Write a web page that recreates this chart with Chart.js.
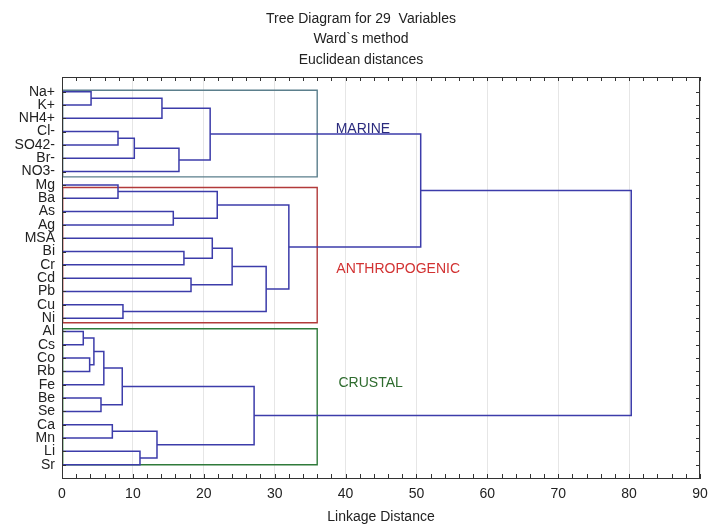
<!DOCTYPE html>
<html>
<head>
<meta charset="utf-8">
<script src="https://cdn.jsdelivr.net/npm/chart.js@4.4.0/dist/chart.umd.min.js"></script>
<style>
  html, body { margin: 0; padding: 0; background: #fff; }
  #wrap { width: 708px; height: 527px; }
</style>
</head>
<body>
<div id="wrap"><canvas id="tree"></canvas></div>
<script>
// leaves from top to bottom
var leaves = ['Na+','K+','NH4+','Cl-','SO42-','Br-','NO3-','Mg','Ba','As','Ag','MSA','Bi','Cr','Cd','Pb','Cu','Ni','Al','Cs','Co','Rb','Fe','Be','Se','Ca','Mn','Li','Sr'];

// linkage steps, m0..m27
var linkLeft  = ['Na+','m0','Cl-','m2','m3','m1','Mg','As','m6','Bi','MSA','Cd','m10','Cu','m12','m8','m5','Al','Co','m17','m19','Be','m20','Ca','Li','m23','m22','m16'];
var linkRight = ['K+','NH4+','SO42-','Br-','NO3-','m4','Ba','Ag','m7','Cr','m9','Pb','m11','Ni','m13','m14','m15','Cs','Rb','m18','Fe','Se','m21','Mn','Sr','m24','m25','m26'];
var linkHeight = [4.1,14.1,7.9,10.2,16.5,20.9,7.9,15.7,21.9,17.2,21.2,18.2,24.0,8.6,28.8,32.0,50.6,3.0,3.9,4.5,5.9,5.5,8.5,7.1,11.0,13.4,27.1,80.3];

var xTicks = [0,10,20,30,40,50,60,70,80,90];

// groups
var groupNames = ['MARINE','ANTHROPOGENIC','CRUSTAL'];
var groupTop = [-0.1, 7.2, 17.8];
var groupBottom = [6.4, 17.35, 28];
var groupDist = [36, 36, 36];

var groupColors = ['#5b7f8c','#b23a3a','#2f7a3a'];
var labelColors = ['#2b2b7e','#d23232','#2e6b2e'];
var labelPos = [[38.6, 2.78],[38.7, 13.3],[39.0, 21.9]];

var lineColor = '#3c3caa';

// positions of nodes
var nodeY = {}, nodeX = {};
leaves.forEach(function(n, i){ nodeY[n] = i; nodeX[n] = 0; });

var datasets = [];
for (var i = 0; i < linkLeft.length; i++) {
    var a = linkLeft[i], b = linkRight[i], h = linkHeight[i];
    datasets.push({
        data: [
            {x: nodeX[a], y: nodeY[a]},
            {x: h, y: nodeY[a]},
            {x: h, y: nodeY[b]},
            {x: nodeX[b], y: nodeY[b]}
        ],
        showLine: true,
        borderColor: lineColor,
        borderWidth: 1.5,
        pointRadius: 0,
        fill: false,
        order: 0
    });
    nodeY['m' + i] = (nodeY[a] + nodeY[b]) / 2;
    nodeX['m' + i] = h;
}

for (var g = 0; g < groupNames.length; g++) {
    datasets.push({
        data: [
            {x: 0.1, y: groupTop[g]},
            {x: groupDist[g], y: groupTop[g]},
            {x: groupDist[g], y: groupBottom[g]},
            {x: 0.1, y: groupBottom[g]},
            {x: 0.1, y: groupTop[g]}
        ],
        showLine: true,
        borderColor: groupColors[g],
        borderWidth: 1.4,
        pointRadius: 0,
        fill: false,
        order: 5
    });
}

var font = '"Liberation Sans", Arial, sans-serif';

var extras = {
    id: 'extras',
    beforeDatasetsDraw: function(chart) {
        var ctx = chart.ctx, xs = chart.scales.x, ys = chart.scales.y;
        ctx.save();
        ctx.font = '14px ' + font;
        ctx.textAlign = 'left';
        ctx.textBaseline = 'middle';
        for (var g = 0; g < groupNames.length; g++) {
            ctx.fillStyle = labelColors[g];
            ctx.fillText(groupNames[g], xs.getPixelForValue(labelPos[g][0]), ys.getPixelForValue(labelPos[g][1]));
        }
        ctx.restore();
    },
    afterDraw: function(chart) {
        var ctx = chart.ctx, a = chart.chartArea, xs = chart.scales.x, ys = chart.scales.y;
        ctx.save();
        ctx.strokeStyle = '#333';
        ctx.lineWidth = 1;
        ctx.strokeRect(a.left + 0.5, a.top + 0.5, a.right - a.left - 1, a.bottom - a.top);
        ctx.beginPath();
        // minor ticks, inside
        for (var v = 0; v <= 90; v += 2) {
            var px = Math.round(xs.getPixelForValue(v)) + 0.5;
            ctx.moveTo(px, a.bottom); ctx.lineTo(px, a.bottom - 4);
            ctx.moveTo(px, a.top); ctx.lineTo(px, a.top + 4);
        }
        for (var r = 0; r < leaves.length; r++) {
            var py = Math.round(ys.getPixelForValue(r)) + 0.5;
            ctx.moveTo(a.left, py); ctx.lineTo(a.left + 4, py);
            ctx.moveTo(a.right, py); ctx.lineTo(a.right - 4, py);
        }
        ctx.stroke();

        // title
        ctx.fillStyle = '#222';
        ctx.font = '14px ' + font;
        ctx.textAlign = 'center';
        ctx.textBaseline = 'middle';
        ctx.fillText('Tree Diagram for 29  Variables', 361, 19);
        ctx.fillText('Ward`s method', 361, 39);
        ctx.fillText('Euclidean distances', 361, 60);
        ctx.restore();
    }
};

var chart = new Chart(document.getElementById('tree').getContext('2d'), {
    type: 'scatter',
    data: { datasets: datasets },
    options: {
        responsive: true,
        maintainAspectRatio: false,
        animation: false,
        layout: { padding: { top: 77, right: 8, left: 0, bottom: 0 } },
        plugins: {
            legend: { display: false },
            tooltip: { enabled: false }
        },
        scales: {
            x: {
                type: 'linear',
                min: 0,
                max: 90,
                afterBuildTicks: function(s){ s.ticks = xTicks.map(function(v){ return {value: v}; }); },
                afterFit: function(s){ s.height = 49; s.paddingLeft = 0; s.paddingRight = 0; },
                ticks: { color: '#222', font: { family: font, size: 14 }, padding: 8, maxRotation: 0 },
                grid: { color: '#e6e6e6', drawTicks: false },
                border: { display: true, color: '#333' },
                title: { display: true, text: 'Linkage Distance', color: '#222', font: { family: font, size: 14 }, padding: { top: 0, bottom: 1 } }
            },
            y: {
                type: 'linear',
                reverse: true,
                min: -1.1,
                max: 29,
                afterBuildTicks: function(s){ s.ticks = leaves.map(function(n, i){ return {value: i}; }); },
                afterFit: function(s){ s.width = 62; s.paddingTop = 0; s.paddingBottom = 0; },
                ticks: {
                    color: '#222',
                    font: { family: font, size: 14 },
                    padding: 7,
                    autoSkip: false,
                    callback: function(v){ return leaves[v]; }
                },
                grid: { display: false, drawTicks: false },
                border: { display: true, color: '#333' }
            }
        }
    },
    plugins: [extras]
});
</script>
</body>
</html>
